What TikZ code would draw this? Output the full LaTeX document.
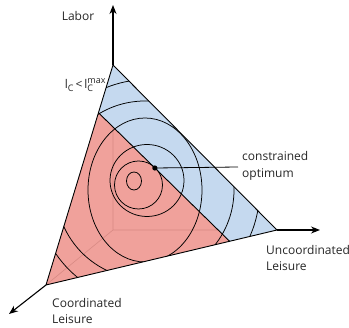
\documentclass[tikz,border=0pt]{standalone}
\usepackage{fontspec}
\setmainfont{Open Sans}
\usetikzlibrary{arrows.meta,calc}
\definecolor{redfill}{RGB}{240,161,155}
\definecolor{bluefill}{RGB}{197,217,239}
\definecolor{hiddenline}{RGB}{216,138,132}
\begin{document}
\begin{tikzpicture}[x=1pt,y=-1pt,
  axisarrow/.style={line width=1.1pt,-{Stealth[length=9pt,width=7pt]}},
  edge/.style={line width=0.9pt,line join=round},
  contour/.style={line width=0.75pt},
  lbl/.style={font=\fontsize{12}{16.5}\selectfont,inner sep=0pt,text=black!85}]
\useasboundingbox (0,0) rectangle (349,328);
\coordinate (Lv) at (113,65);
\coordinate (Uv) at (277,230);
\coordinate (Cv) at (46,285);
\coordinate (O) at (113,230);
\coordinate (D1) at ($(Lv)!0.217!(Cv)$);
\coordinate (D2) at ($(Uv)!0.205!(Cv)$);
\coordinate (opt) at ($(D1)!0.43!(D2)$);
% fills
\fill[bluefill] (Lv) -- (Uv) -- (Cv) -- cycle;
\fill[redfill] (Cv) -- (D1) -- (D2) -- cycle;
% hidden axes
\begin{scope}
  \clip (Cv) -- (D1) -- (D2) -- cycle;
  \draw[hiddenline,line width=0.6pt] (Lv) -- (O) -- (Uv) (O) -- (Cv);
\end{scope}
% contours
\begin{scope}
  \clip (Lv) -- (Uv) -- (Cv) -- cycle;
  \draw[contour] (134,181) ellipse [x radius=7.5pt,y radius=9pt];
  \draw[contour] (138.5,185) circle [radius=24pt];
  \draw[contour] (147,180.5) ellipse [x radius=37pt,y radius=36pt];
  \draw[contour] (145,190) ellipse [x radius=57pt,y radius=72pt];
  \draw[contour] (145,190) circle [radius=89pt];
  \draw[contour] (148,191) circle [radius=111.5pt];
\end{scope}
% outline and divider
\draw[edge] (Lv) -- (Uv) -- (Cv) -- cycle;
\draw[edge] (D1) -- (D2);
% axes
\coordinate (Ltip) at (113,5);
\coordinate (Utip) at (320,230);
\coordinate (Ctip) at (9,314);
\draw[axisarrow] (Lv) -- (Ltip);
\draw[axisarrow] (Uv) -- (Utip);
\draw[axisarrow] (Cv) -- (Ctip);
% optimum
\fill (opt) circle [radius=2.6pt];
\coordinate (leader) at (238,167);
\draw[line width=0.8pt] (opt) -- (leader);
% labels
\node[lbl] (labor) at (78,16) {Labor};
\node[lbl] (cons) at (79,85) {l\raisebox{-3pt}{\fontsize{9}{9}\selectfont C}\,<\,l\makebox[0pt][l]{\raisebox{5pt}{\fontsize{9}{9}\selectfont max}}\raisebox{-3pt}{\fontsize{9}{9}\selectfont C}\hspace{11pt}};
\node[lbl,anchor=west,align=left] (copt) at (242,166) {constrained\\optimum};
\node[lbl,anchor=west,align=left] (uncl) at (266,258) {Uncoordinated\\Leisure};
\node[lbl,anchor=west,align=left] (coordl) at (52,311) {Coordinated\\Leisure};
\end{tikzpicture}
\end{document}
